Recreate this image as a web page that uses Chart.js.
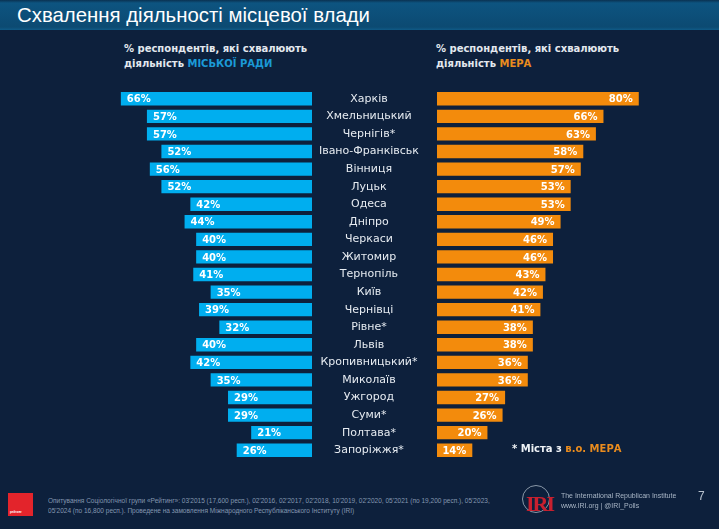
<!DOCTYPE html>
<html>
<head>
<meta charset="utf-8">
<script src="https://cdn.jsdelivr.net/npm/chart.js@4.4.1/dist/chart.umd.min.js"></script>
<style>
  body { margin: 0; }
  #page {
    position: relative; width: 719px; height: 529px; overflow: hidden;
    background: #0d203c; font-family: "DejaVu Sans", sans-serif;
  }
  #band {
    position: absolute; left: 0; top: 0; width: 719px; height: 30px;
    background: linear-gradient(to bottom, #0a3252 0, #0d5480 3px, #0c4a72 27px, #0f5a86 30px);
  }
  #title {
    position: absolute; left: 17px; top: 3px; color: #fff; white-space: nowrap;
    font: 21px "Liberation Sans", sans-serif;
    transform: scaleX(0.97); transform-origin: left top;
  }
  .sub {
    position: absolute; top: 41px; color: #e3e8ef;
    font: bold 10px "DejaVu Sans", sans-serif; line-height: 15px;
  }
  .blue { color: #1b9ad7; }
  .orange { color: #ea8c1e; }
  canvas { position: absolute; }
  #note {
    position: absolute; left: 512px; top: 443px; color: #eef2f6;
    font: bold 10px "DejaVu Sans", sans-serif;
  }
  #logo {
    position: absolute; left: 8px; top: 493px; width: 25px; height: 23px;
    background: #e3242b; color: #fff; font: bold 3px sans-serif;
  }
  #logo span { position: absolute; left: 2px; bottom: 2px; }
  #source {
    position: absolute; left: 48px; top: 496px; color: #8497b0; white-space: nowrap;
    font: 7.5px "Liberation Sans", sans-serif; line-height: 10px;
    transform: scaleX(0.87); transform-origin: left top;
  }
  #globe {
    position: absolute; left: 522px; top: 485px; width: 26px; height: 26px;
    border: 1px solid #8a98a8; border-radius: 50%;
  }
  #iri {
    position: absolute; left: 526px; top: 491px; color: #c8202f;
    font: bold 22px "Liberation Serif", serif; letter-spacing: -2px;
  }
  #iritext {
    position: absolute; left: 561px; top: 491px; color: #a9b6c6; white-space: nowrap;
    font: 8px "Liberation Sans", sans-serif; line-height: 10px;
    transform: scaleX(0.87); transform-origin: left top;
  }
  #pnum {
    position: absolute; left: 698px; top: 489px; color: #b8c2ce;
    font: 12px "Liberation Sans", sans-serif;
  }
</style>
</head>
<body>
<div id="page">
  <div id="band"></div>
  <div id="title">Схвалення діяльності місцевої влади</div>
  <div class="sub" style="left:124px">% респондентів, які схвалюють<br>діяльність <span class="blue">МІСЬКОЇ РАДИ</span></div>
  <div class="sub" style="left:436px">% респондентів, які схвалюють<br>діяльність <span class="orange">МЕРА</span></div>
  <canvas id="council" width="212" height="369" style="left:100px;top:90px"></canvas>
  <canvas id="mayor" width="344" height="369" style="left:320px;top:90px"></canvas>
  <div id="note">* Міста з <span class="orange">в.о. МЕРА</span></div>
  <div id="logo"><span>рейтинг</span></div>
  <div id="source">Опитування Соціологічної групи «Рейтинг»: 03'2015 (17,600 респ.), 02'2016, 02'2017, 02'2018, 10'2019, 02'2020, 05'2021 (по 19,200 респ.), 05'2023,<br>05'2024 (по 16,800 респ.). Проведене на замовлення Міжнародного Республіканського Інституту (IRI)</div>
  <div id="globe"></div>
  <div id="iri">IRI</div>
  <div id="iritext">The International Republican Institute<br>www.IRI.org | @IRI_Polls</div>
  <div id="pnum">7</div>
</div>
<script>
const cities = ["Харків", "Хмельницький", "Чернігів*", "Івано-Франківськ", "Вінниця", "Луцьк", "Одеса",
  "Дніпро", "Черкаси", "Житомир", "Тернопіль", "Київ", "Чернівці", "Рівне*", "Львів",
  "Кропивницький*", "Миколаїв", "Ужгород", "Суми*", "Полтава*", "Запоріжжя*"];
const councilValues = [66, 57, 57, 52, 56, 52, 42, 44, 40, 40, 41, 35, 39, 32, 40, 42, 35, 29, 29, 21, 26];
const mayorValues = [80, 66, 63, 58, 57, 53, 53, 49, 46, 46, 43, 42, 41, 38, 38, 36, 36, 27, 26, 20, 14];

// percent text inside each bar, near its outer end
const valueLabels = {
    id: 'valueLabels',
    afterDatasetsDraw(chart, args, opts) {
        const ctx = chart.ctx;
        const data = chart.data.datasets[0].data;
        ctx.save();
        ctx.font = 'bold 10px "DejaVu Sans"';
        ctx.fillStyle = '#ffffff';
        ctx.textBaseline = 'middle';
        chart.getDatasetMeta(0).data.forEach((bar, i) => {
            if (opts.side === 'left') {
                ctx.textAlign = 'left';
                ctx.fillText(data[i] + '%', bar.x + 6, bar.y + 1);
            } else {
                ctx.textAlign = 'right';
                ctx.fillText(data[i] + '%', bar.x - 6, bar.y + 1);
            }
        });
        ctx.restore();
    }
};

new Chart(document.getElementById("council"), {
    type: 'bar',
    data: {
        labels: cities,
        datasets: [{
            data: councilValues,
            backgroundColor: '#00aeef',
            categoryPercentage: 1,
            barPercentage: 0.76
        }]
    },
    options: {
        indexAxis: 'y',
        responsive: false,
        animation: false,
        devicePixelRatio: 1,
        layout: { padding: 0 },
        scales: {
            x: { display: false, reverse: true, min: 0, max: 73.2 },
            y: { display: false }
        },
        plugins: {
            legend: { display: false },
            tooltip: { enabled: false },
            valueLabels: { side: 'left' }
        }
    },
    plugins: [valueLabels]
});

new Chart(document.getElementById("mayor"), {
    type: 'bar',
    data: {
        labels: cities,
        datasets: [{
            data: mayorValues,
            backgroundColor: '#f38b0c',
            categoryPercentage: 1,
            barPercentage: 0.76
        }]
    },
    options: {
        indexAxis: 'y',
        responsive: false,
        animation: false,
        devicePixelRatio: 1,
        layout: { padding: 0 },
        scales: {
            x: { display: false, min: 0, max: 90 },
            y: {
                grid: { display: false, drawTicks: false },
                border: { display: false },
                ticks: {
                    color: '#e6ebf1',
                    font: { family: 'DejaVu Sans', size: 11 },
                    crossAlign: 'center',
                    padding: 18
                },
                afterFit(axis) {
                    // fixed label column, and no extra space above/below the rows
                    axis.width = 117;
                    axis.paddingTop = 0;
                    axis.paddingBottom = 0;
                }
            }
        },
        plugins: {
            legend: { display: false },
            tooltip: { enabled: false },
            valueLabels: { side: 'right' }
        }
    },
    plugins: [valueLabels]
});
</script>
</body>
</html>
